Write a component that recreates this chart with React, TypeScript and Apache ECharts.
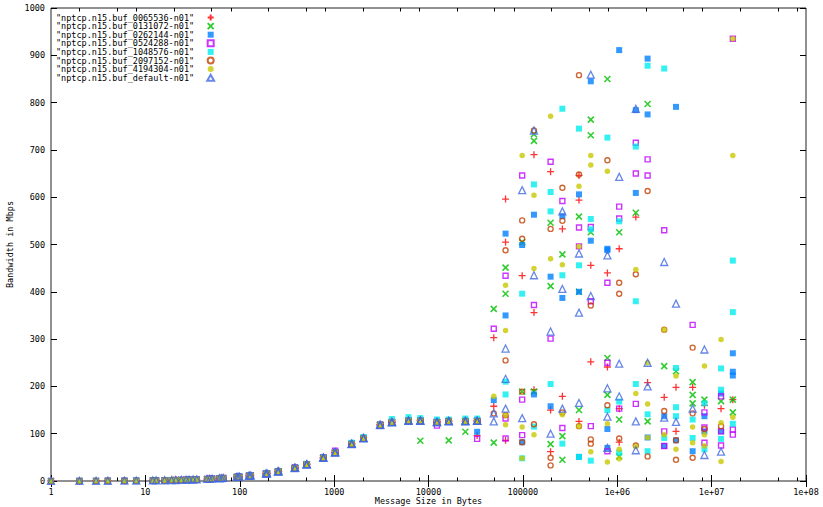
import React, { useEffect, useRef } from "react";
import * as echarts from "echarts";

// Message sizes (bytes) of the NetPIPE run where all buffers give nearly the same bandwidth
const lowSizes = [
  1, 2, 3, 4, 6, 8, 12, 13, 16, 19, 21, 24, 27, 29, 32, 35, 45, 48, 51, 61, 64, 67, 93, 96, 99,
  125, 128, 131, 189, 192, 195, 253, 256, 259, 381, 384, 387, 509, 512, 515, 765, 768, 771,
  1021, 1024, 1027, 1533, 1536, 1539, 2045, 2048, 2051, 3069, 3072, 3075, 4093, 4096, 4099,
  6141, 6144, 6147, 8189, 8192, 8195, 12285, 12288, 12291, 16381, 16384, 16387, 24573, 24576,
  24579, 32765, 32768, 32771,
];
// Bandwidth (Mbps) common to all series at those sizes
const lowMbps = [
  0.1, 0.2, 0.3, 0.4, 0.6, 0.8, 1.2, 1.3, 1.6, 1.9, 2.1, 2.4, 2.7, 2.9, 3.1, 3.4, 4.3, 4.6, 4.9,
  5.8, 6.1, 6.4, 8.6, 8.9, 9.2, 11, 11.3, 11.6, 15.5, 15.7, 16, 20, 20.3, 20.5, 27.5, 27.7, 28,
  35, 35.2, 35.4, 49, 49.3, 49.5, 60, 60.5, 61, 78, 78.5, 79, 90, 90.5, 91, 118, 118.5, 119,
  124, 124.5, 125, 127, 127.5, 128, 127, 127.5, 128, 124, 125, 125, 126, 126.5, 127, 126, 126.5,
  127, 127, 127, 127,
];

const seriesNames = [
  "nptcp.n15.buf_0065536-n01",
  "nptcp.n15.buf_0131072-n01",
  "nptcp.n15.buf_0262144-n01",
  "nptcp.n15.buf_0524288-n01",
  "nptcp.n15.buf_1048576-n01",
  "nptcp.n15.buf_2097152-n01",
  "nptcp.n15.buf_4194304-n01",
  "nptcp.n15.buf_default-n01",
];

// [message size, Mbps] points that differ from the common curve
const buf0065536 = [
  [32768, 96], [49152, 303], [49152, 158], [65536, 596], [65536, 505], [65536, 86], [98304, 434],
  [131072, 690], [131072, 356], [131072, 193], [196608, 654], [196608, 150], [196608, 62],
  [262144, 533], [262144, 179], [393216, 646], [393216, 594], [393216, 126], [524288, 456],
  [524288, 252], [786432, 440], [786432, 241], [1048576, 491], [1048576, 153], [1048576, 82],
  [1572864, 558], [2097152, 208], [3145728, 177], [4194304, 198], [4194304, 105], [6291456, 198],
  [8388608, 160], [12582912, 153], [16777216, 172],
];
const buf0131072 = [
  [8192, 85], [16384, 86], [24576, 104], [49152, 364], [49152, 81], [65536, 451], [65536, 396],
  [98304, 505], [98304, 189], [131072, 733], [131072, 719], [131072, 189], [196608, 546],
  [196608, 412], [196608, 78], [262144, 479], [262144, 95], [262144, 45], [393216, 559],
  [393216, 400], [393216, 150], [524288, 764], [524288, 731], [524288, 526], [786432, 850],
  [786432, 260], [786432, 182], [1048576, 526], [1048576, 130], [1048576, 52], [1572864, 567],
  [2097152, 797], [2097152, 126], [3145728, 243], [4194304, 232], [6291456, 209], [6291456, 182],
  [6291456, 164], [8388608, 172], [12582912, 169], [16777216, 172], [16777216, 145],
];
const buf0262144 = [
  [32768, 104], [49152, 171], [65536, 523], [65536, 350], [98304, 499], [98304, 82], [131072, 563],
  [131072, 183], [196608, 432], [196608, 158], [262144, 560], [262144, 387], [393216, 606],
  [393216, 400], [393216, 51], [524288, 845], [524288, 508], [786432, 491], [786432, 488],
  [786432, 110], [786432, 70], [1048576, 911], [1572864, 784], [1572864, 609], [2097152, 893],
  [2097152, 775], [2097152, 92], [3145728, 137], [3145728, 74], [4194304, 791], [4194304, 86],
  [6291456, 63], [8388608, 137], [8388608, 105], [12582912, 185], [12582912, 105],
  [16777216, 270], [16777216, 231], [16777216, 223],
];
const buf0524288 = [
  [1024, 64], [12288, 117], [32768, 89], [49152, 322], [65536, 434], [65536, 132], [65536, 90],
  [98304, 646], [98304, 172], [98304, 97], [131072, 372], [196608, 675], [196608, 301],
  [262144, 592], [262144, 112], [393216, 536], [393216, 496], [524288, 537], [524288, 380],
  [524288, 116], [786432, 419], [786432, 250], [786432, 63], [1048576, 580], [1048576, 555],
  [1048576, 153], [1572864, 715], [1572864, 650], [1572864, 163], [2097152, 680], [2097152, 646],
  [3145728, 530], [3145728, 105], [3145728, 74], [6291456, 330], [8388608, 145], [8388608, 113],
  [8388608, 81], [12582912, 179], [12582912, 105], [12582912, 75], [16777216, 935],
  [16777216, 109], [16777216, 98],
];
const buf1048576 = [
  [1536, 81], [2048, 93], [4096, 131], [6144, 135], [8192, 133], [12288, 130], [16384, 130],
  [24576, 132], [32768, 132], [65536, 210], [65536, 183], [98304, 396], [98304, 48],
  [131072, 627], [131072, 115], [196608, 611], [196608, 570], [196608, 205], [262144, 787],
  [262144, 435], [262144, 79], [393216, 745], [393216, 456], [393216, 51], [524288, 554],
  [524288, 532], [524288, 43], [786432, 726], [786432, 150], [1048576, 549], [1048576, 168],
  [1048576, 60], [1572864, 707], [1572864, 380], [1572864, 205], [2097152, 878], [2097152, 141],
  [2097152, 63], [3145728, 872], [3145728, 91], [4194304, 239], [4194304, 156], [4194304, 137],
  [6291456, 130], [6291456, 91], [8388608, 164], [8388608, 67], [12582912, 238], [12582912, 193],
  [12582912, 89], [16777216, 466], [16777216, 357], [16777216, 121],
];
const buf2097152 = [
  [49152, 143], [65536, 488], [65536, 255], [65536, 139], [98304, 551], [98304, 512], [98304, 189],
  [98304, 82], [131072, 741], [131072, 120], [196608, 533], [196608, 49], [196608, 33],
  [262144, 620], [262144, 550], [262144, 145], [393216, 858], [393216, 648], [393216, 116],
  [524288, 371], [524288, 88], [524288, 79], [786432, 678], [786432, 160], [1048576, 419],
  [1048576, 396], [1048576, 90], [1572864, 437], [1572864, 75], [2097152, 613], [2097152, 52],
  [3145728, 320], [3145728, 148], [4194304, 86], [4194304, 45], [6291456, 282], [6291456, 143],
  [6291456, 49], [8388608, 110], [12582912, 116],
];
const buf4194304 = [
  [49152, 179], [65536, 414], [65536, 318], [65536, 139], [65536, 119], [98304, 688], [98304, 114],
  [98304, 48], [131072, 604], [131072, 449], [131072, 98], [196608, 771], [196608, 470],
  [262144, 457], [262144, 140], [393216, 623], [393216, 496], [393216, 116], [524288, 688],
  [524288, 668], [524288, 62], [786432, 655], [786432, 121], [786432, 40], [1048576, 67],
  [1048576, 47], [1572864, 447], [1572864, 185], [1572864, 73], [2097152, 250], [2097152, 163],
  [2097152, 92], [3145728, 320], [3145728, 98], [4194304, 222], [4194304, 67], [6291456, 114],
  [6291456, 81], [8388608, 243], [8388608, 98], [8388608, 74], [12582912, 299], [12582912, 123],
  [12582912, 41], [16777216, 935], [16777216, 688], [16777216, 135],
];
const bufDefault = [
  [49152, 143], [49152, 126], [65536, 280], [65536, 216], [65536, 153], [98304, 615], [98304, 133],
  [131072, 741], [131072, 435], [196608, 316], [196608, 100], [262144, 570], [262144, 406],
  [262144, 153], [393216, 481], [393216, 356], [393216, 165], [524288, 859], [524288, 391],
  [786432, 477], [786432, 196], [786432, 136], [786432, 70], [1048576, 643], [1048576, 248],
  [1048576, 179], [1572864, 787], [1572864, 126], [1572864, 65], [2097152, 250], [2097152, 200],
  [3145728, 463], [3145728, 134], [4194304, 375], [4194304, 125], [6291456, 153], [8388608, 278],
  [8388608, 55], [12582912, 62],
];

const seriesPoints = [
  buf0065536, buf0131072, buf0262144, buf0524288, buf1048576, buf2097152, buf4194304, bufDefault,
];

const xTickLabels = ["1", "10", "100", "1000", "10000", "100000", "1e+06", "1e+07", "1e+08"];

const FONT = "DejaVu Sans Mono";

const SQUARE = "path://M0,0H8V8H0Z";
const CIRCLE = "path://M4,0A4,4,0,1,1,4,8A4,4,0,1,1,4,0Z";
const TRIANGLE = "path://M4,0L8,7H0Z";

type Style = { symbol: string; size: number; itemStyle: any };
const styles: Style[] = [
  { symbol: "path://M0,4H8M4,0V8", size: 7, itemStyle: { color: "#ff0000", borderColor: "#ff0000", borderWidth: 1.3 } },
  { symbol: "path://M0,0L8,8M0,8L8,0", size: 6, itemStyle: { color: "#00c000", borderColor: "#00c000", borderWidth: 1.6 } },
  { symbol: SQUARE, size: 6, itemStyle: { color: "#0080ff" } },
  { symbol: SQUARE, size: 5, itemStyle: { color: "rgba(255,255,255,0)", borderColor: "#c000ff", borderWidth: 1.4 } },
  { symbol: SQUARE, size: 6, itemStyle: { color: "#00eeee" } },
  { symbol: CIRCLE, size: 5, itemStyle: { color: "rgba(255,255,255,0)", borderColor: "#c04000", borderWidth: 1.4 } },
  { symbol: CIRCLE, size: 5.5, itemStyle: { color: "#c8c800" } },
  { symbol: TRIANGLE, size: 7, itemStyle: { color: "rgba(255,255,255,0)", borderColor: "#4169e1", borderWidth: 1.3 } },
];

function xLabel(v: number): string {
  const e = Math.round(Math.log10(v));
  return xTickLabels[e] ?? "";
}

export default function App() {
  const ref = useRef<HTMLDivElement>(null);
  useEffect(() => {
    const chart = echarts.init(ref.current!, null, { renderer: "svg" });
    const lowPairs = lowSizes.map((s, i) => [s, lowMbps[i]]);
    const series = seriesNames.map((name, i) => ({
      name,
      type: "scatter",
      xAxisIndex: 0,
      yAxisIndex: 0,
      symbol: styles[i].symbol,
      symbolSize: styles[i].size,
      itemStyle: styles[i].itemStyle,
      data: [...lowPairs, ...seriesPoints[i]],
      emphasis: { disabled: true },
    }));
    const tickStyle = { lineStyle: { color: "#000", width: 1 } };
    const labelStyle = { fontFamily: FONT, fontSize: 8.5, color: "#000" };
    const option: any = {
      animation: false,
      backgroundColor: "#fff",
      grid: {
        left: 51, right: 17, top: 8, bottom: 26, show: true, borderColor: "#222", borderWidth: 1,
        backgroundColor: "transparent", containLabel: false, outerBoundsMode: "none",
      },
      legend: {
        orient: "vertical",
        left: 56,
        top: 13,
        padding: 0,
        align: "right",
        itemWidth: 23,
        itemHeight: 6,
        itemGap: -0.4,
        symbolKeepAspect: true,
        formatter: (n: string) => `"${n}"`,
        textStyle: { fontFamily: FONT, fontSize: 8.5, color: "#000", lineHeight: 8.3 },
        selectedMode: false,
        data: seriesNames,
      },
      xAxis: [
        {
          type: "log",
          logBase: 10,
          min: 1,
          max: 1e8,
          position: "bottom",
          name: "Message Size in Bytes",
          nameLocation: "middle",
          nameGap: 15,
          nameMoveOverlap: false,
          nameTextStyle: { ...labelStyle, verticalAlign: "top", lineHeight: 10 },
          axisLine: { show: false },
          axisTick: { show: true, inside: true, length: 6, ...tickStyle },
          axisLabel: { ...labelStyle, margin: 6, formatter: xLabel },
          splitLine: { show: false },
        },
        {
          type: "log",
          logBase: 10,
          min: 1,
          max: 1e8,
          position: "top",
          axisLine: { show: false },
          axisTick: { show: true, inside: true, length: 6, ...tickStyle },
          axisLabel: { show: false },
          splitLine: { show: false },
        },
      ],
      yAxis: [
        {
          type: "value",
          min: 0,
          max: 1000,
          interval: 100,
          position: "left",
          name: "Bandwidth in Mbps",
          nameLocation: "middle",
          nameGap: 37,
          nameMoveOverlap: false,
          nameRotate: 90,
          nameTextStyle: labelStyle,
          axisLine: { show: false },
          axisTick: { show: true, inside: true, length: 6, ...tickStyle },
          axisLabel: { ...labelStyle, margin: 6, formatter: (v: number) => String(v) },
          splitLine: { show: false },
        },
        {
          type: "value",
          min: 0,
          max: 1000,
          interval: 100,
          position: "right",
          axisLine: { show: false },
          axisTick: { show: true, inside: true, length: 6, ...tickStyle },
          axisLabel: { show: false },
          splitLine: { show: false },
        },
      ],
      series,
    };
    chart.setOption(option);

    // minor log ticks at 2, 5, 8 of each decade (bottom and top)
    const yBottom = chart.convertToPixel({ yAxisIndex: 0 }, 0) as number;
    const yTop = chart.convertToPixel({ yAxisIndex: 0 }, 1000) as number;
    const graphics: any[] = [];
    for (let k = 0; k < 8; k++) {
      for (const m of [2, 5, 8]) {
        const px = Math.round(chart.convertToPixel({ xAxisIndex: 0 }, m * Math.pow(10, k)) as number) + 0.5;
        graphics.push({ type: "line", silent: true, shape: { x1: px, y1: yBottom, x2: px, y2: yBottom - 3.5 }, style: { stroke: "#000", lineWidth: 1 } });
        graphics.push({ type: "line", silent: true, shape: { x1: px, y1: yTop, x2: px, y2: yTop + 3.5 }, style: { stroke: "#000", lineWidth: 1 } });
      }
    }
    chart.setOption({ graphic: graphics });
    return () => chart.dispose();
  }, []);
  return <div ref={ref} style={{ position: "absolute", left: 0, top: 0, width: 823, height: 507 }} />;
}
